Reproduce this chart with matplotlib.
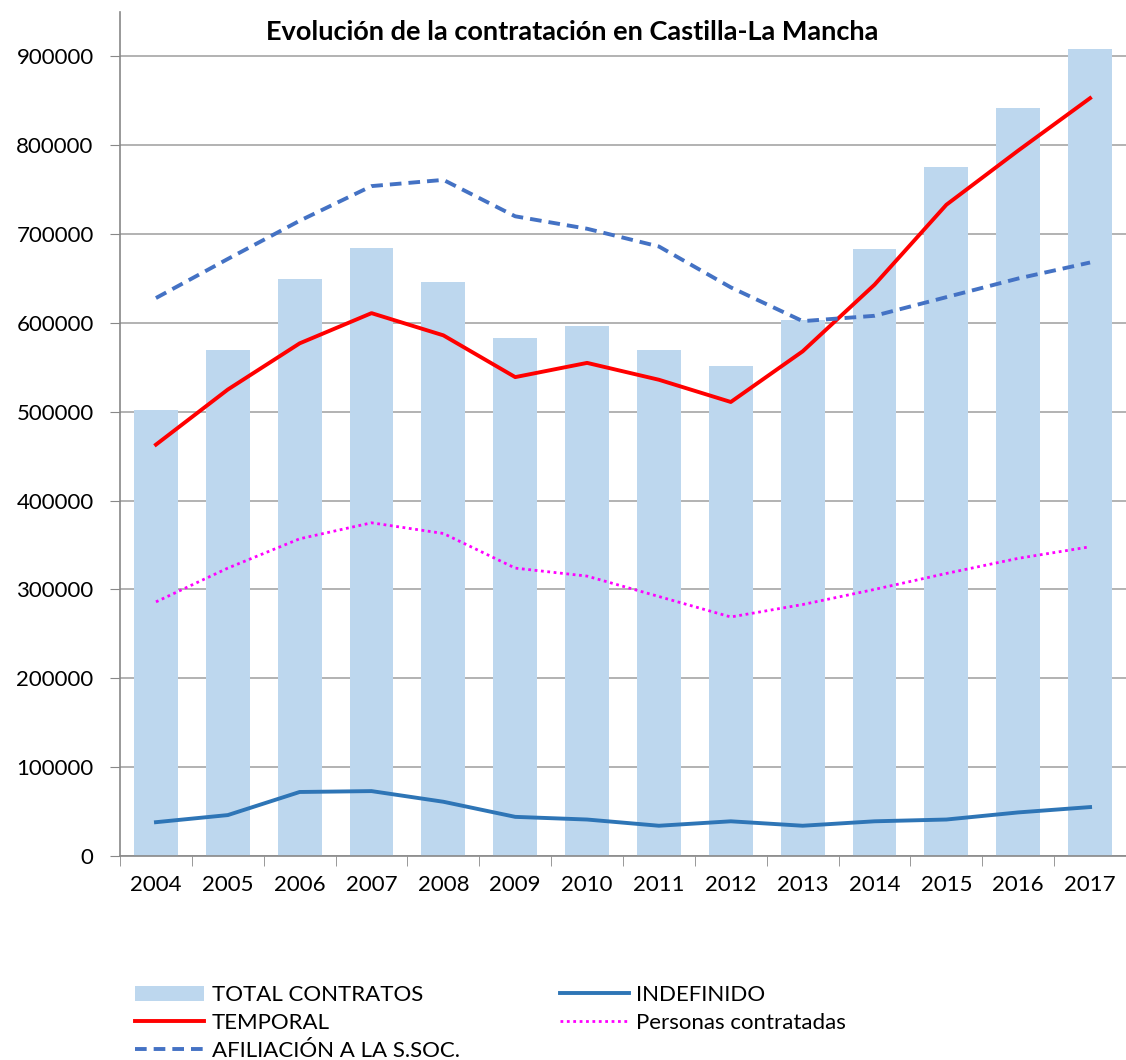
import matplotlib.pyplot as plt
import numpy as np

plt.rcParams['font.family'] = ['Lato', 'DejaVu Sans']

years = ['2004', '2005', '2006', '2007', '2008', '2009', '2010',
         '2011', '2012', '2013', '2014', '2015', '2016', '2017']
total_contratos = [502000, 570000, 649000, 684000, 646000, 583000, 596000,
                   569000, 551000, 603000, 683000, 776000, 842000, 908000]
temporal = [463000, 525000, 577000, 611000, 586000, 539000, 555000,
            536000, 511000, 568000, 643000, 733000, 794000, 853000]
afiliacion = [628000, 672000, 715000, 754000, 761000, 720000, 706000,
              686000, 640000, 602000, 608000, 629000, 650000, 668000]
personas = [286000, 324000, 357000, 375000, 363000, 324000, 315000,
            292000, 269000, 283000, 300000, 318000, 335000, 348000]
indefinido = [38000, 46000, 72000, 73000, 61000, 44000, 41000,
              34000, 39000, 34000, 39000, 41000, 49000, 55000]

x = np.arange(len(years))

fig = plt.figure(figsize=(11.26, 10.6), dpi=100)
ax = fig.add_axes([0.1066, 0.1925, 0.8934, 0.7962])

# bars and lines
b = ax.bar(x, total_contratos, width=0.61, color='#BDD7EE', zorder=2, label='TOTAL CONTRATOS')
l_ind, = ax.plot(x, indefinido, color='#2E75B6', lw=2.8, zorder=3, label='INDEFINIDO')
l_tem, = ax.plot(x, temporal, color='#FF0000', lw=2.8, zorder=3, label='TEMPORAL')
l_per, = ax.plot(x, personas, color='#FF00FF', lw=2, ls=(0, (1, 1.3)), zorder=3,
                 label='Personas contratadas')
l_afi, = ax.plot(x, afiliacion, color='#4472C4', lw=2.8, ls=(0, (3, 1.8)), zorder=3,
                 label='AFILIACIÓN A LA S.SOC.')

ax.set_xlim(-0.5, 13.36)
ax.set_ylim(0, 950000)
ax.set_yticks(np.arange(0, 900001, 100000))
ax.set_yticklabels([str(v) for v in range(0, 900001, 100000)])
ax.set_xticks(x)
ax.set_xticklabels(years)
ax.set_xticks(np.arange(-0.5, 13.6, 1), minor=True)
ax.tick_params(axis='x', which='major', length=0, pad=14, labelsize=16)
ax.tick_params(axis='x', which='minor', length=7, color='#888888')
ax.tick_params(axis='y', length=7, color='#888888', labelsize=16, pad=12)
ax.grid(axis='y', color='#A6A6A6', lw=1.2, zorder=0)
ax.set_axisbelow(True)
for s in ['top', 'right']:
    ax.spines[s].set_visible(False)
for s in ['left', 'bottom']:
    ax.spines[s].set_color('#888888')
    ax.spines[s].set_linewidth(1.2)

fig.text(0.508, 0.970, 'Evolución de la contratación en Castilla-La Mancha',
         ha='center', va='center', fontsize=19.5, fontweight='bold')

fig.legend(handles=[b, l_tem, l_afi, l_ind, l_per], ncol=2, frameon=False,
           loc='upper left', bbox_to_anchor=(0.112, 0.079), fontsize=16,
           handlelength=3.1, handletextpad=0.35, columnspacing=4.5,
           labelspacing=0.35, borderaxespad=0)

fig.savefig('out.png', dpi=100)
